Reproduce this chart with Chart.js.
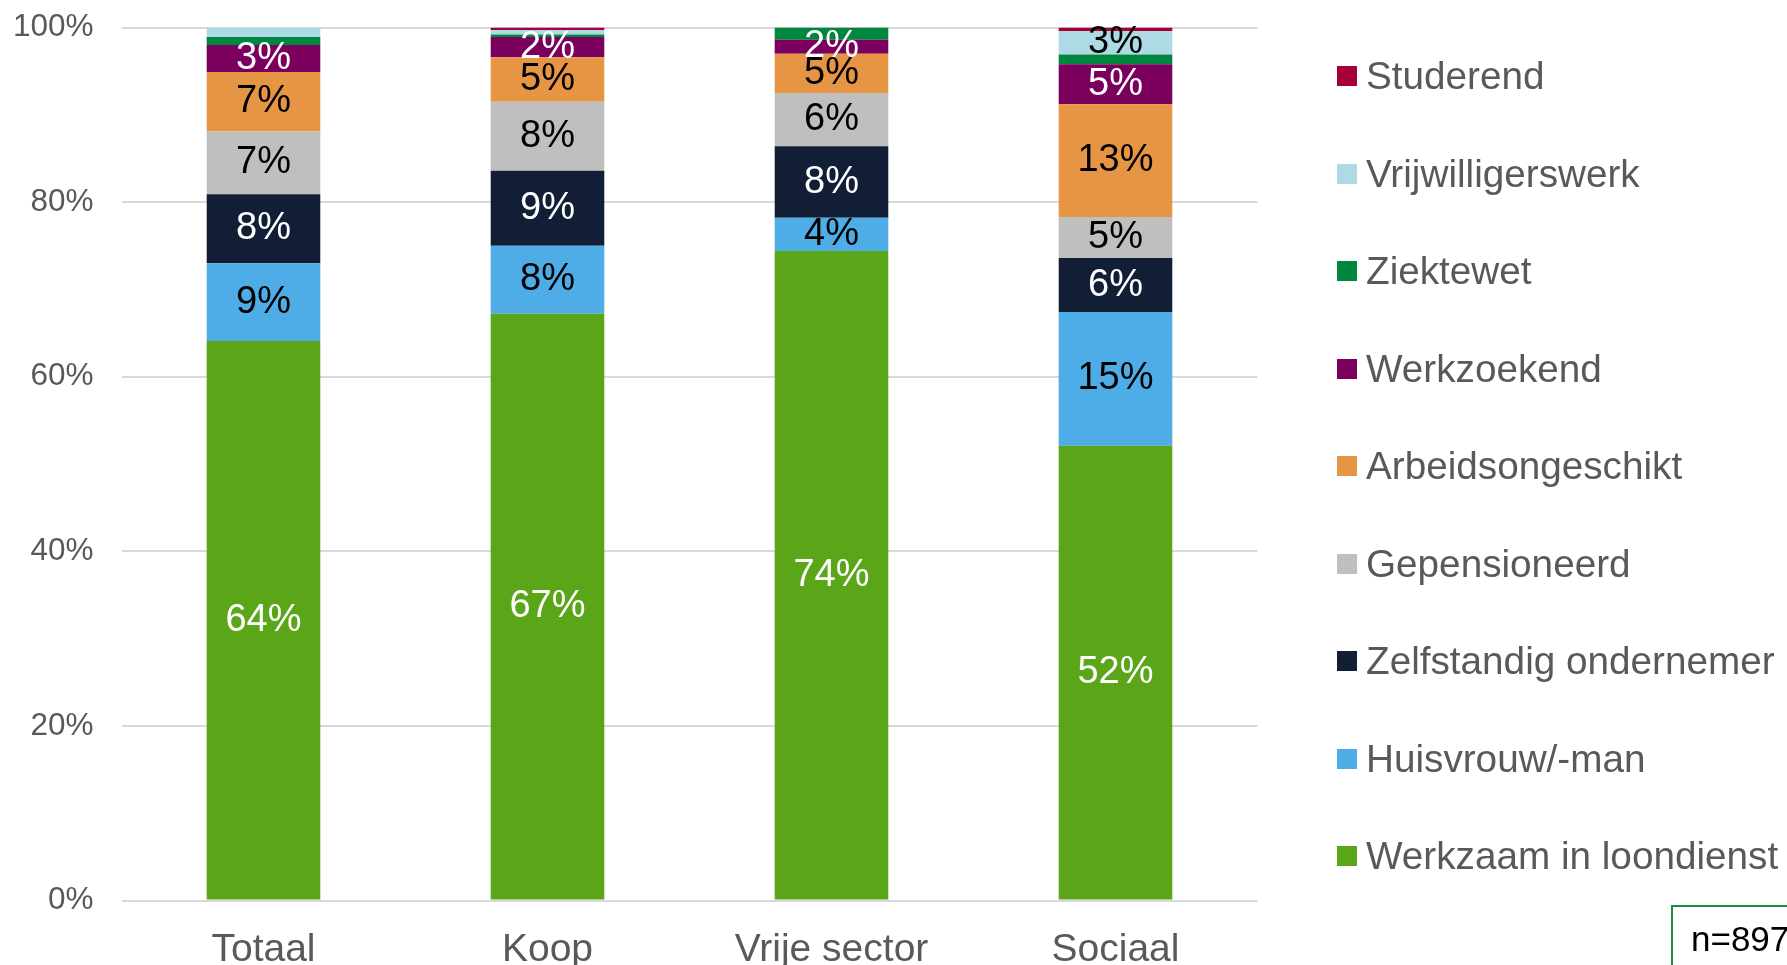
<!DOCTYPE html>
<html>
<head>
<meta charset="utf-8">
<script src="https://cdn.jsdelivr.net/npm/chart.js@4.4.0/dist/chart.umd.min.js"></script>
<style>
  html, body { margin: 0; padding: 0; background: #fff; overflow: hidden; }
  #wrap { position: relative; width: 1787px; height: 965px; }
  #chartBox { position: absolute; left: 0; top: 0; width: 1787px; height: 965px; }
  #legend { position: absolute; left: 1337px; top: 0; font-family: "Liberation Sans", Arial, sans-serif; font-size: 38.7px; color: #595959; }
  .item { position: absolute; left: 0; height: 40px; display: flex; align-items: center; white-space: nowrap; }
  .swatch { width: 20px; height: 20px; margin-right: 9px; flex: none; }
  #nbox { position: absolute; left: 1671px; top: 905px; width: 200px; height: 100px; box-sizing: border-box; border: 2px solid #1E8C45; }
  #nbox span { position: absolute; left: 18px; top: 12px; font-family: "Liberation Sans", Arial, sans-serif; font-size: 35px; color: #000; }
</style>
</head>
<body>
<div id="wrap">
  <div id="chartBox"><canvas id="werkChart"></canvas></div>
  <div id="legend"></div>
  <div id="nbox"><span>n=897</span></div>
</div>
<script>
// categorieen en aandelen (%) per woningtype
const categories = ['Totaal', 'Koop', 'Vrije sector', 'Sociaal'];
const loondienst = [64.1, 67.2, 74.4, 52.1];
const huisvrouw = [8.9, 7.8, 3.8, 15.3];
const zelfstandig = [7.9, 8.6, 8.2, 6.2];
const gepensioneerd = [7.2, 7.9, 6.1, 4.7];
const arbeidsongeschikt = [6.8, 5.1, 4.5, 12.9];
const werkzoekend = [3.1, 2.3, 1.6, 4.6];
const ziektewet = [0.9, 0.3, 1.4, 1.1];
const vrijwilligerswerk = [1.1, 0.5, 0, 2.7];
const studerend = [0, 0.3, 0, 0.4];
const yTicks = [0, 20, 40, 60, 80, 100];

const seriesNames = ['Werkzaam in loondienst', 'Huisvrouw/-man', 'Zelfstandig ondernemer', 'Gepensioneerd',
  'Arbeidsongeschikt', 'Werkzoekend', 'Ziektewet', 'Vrijwilligerswerk', 'Studerend'];
const seriesData = [loondienst, huisvrouw, zelfstandig, gepensioneerd, arbeidsongeschikt,
  werkzoekend, ziektewet, vrijwilligerswerk, studerend];
const colors = ['#5AA518', '#4EADE6', '#111E36', '#BFBFBF', '#E69545', '#7B005E', '#00873F', '#ADDAE4', '#A5003A'];
const labelColors = ['#fff', '#000', '#fff', '#000', '#000', '#fff', '#fff', '#000', '#fff'];

const segmentLabels = {
  id: 'segmentLabels',
  afterDatasetsDraw(chart) {
    const ctx = chart.ctx;
    ctx.save();
    ctx.font = '38px "Liberation Sans", Arial, sans-serif';
    ctx.textAlign = 'center';
    ctx.textBaseline = 'middle';
    chart.data.datasets.forEach((ds, i) => {
      const meta = chart.getDatasetMeta(i);
      meta.data.forEach((bar, j) => {
        const v = ds.data[j];
        if (v < 1.5) return;
        ctx.fillStyle = labelColors[i];
        ctx.fillText(Math.round(v) + '%', bar.x, (bar.y + bar.base) / 2);
      });
    });
    ctx.restore();
  }
};

new Chart(document.getElementById('werkChart'), {
  type: 'bar',
  data: {
    labels: categories,
    datasets: seriesNames.map((name, i) => ({
      label: name,
      data: seriesData[i],
      backgroundColor: colors[i],
      borderWidth: 0,
      barPercentage: 0.4,
      categoryPercentage: 1
    }))
  },
  options: {
    responsive: true,
    maintainAspectRatio: false,
    animation: false,
    layout: { padding: { top: 27.5, right: 529.5, left: 0, bottom: 0 } },
    plugins: { legend: { display: false }, tooltip: { enabled: false } },
    scales: {
      x: {
        stacked: true,
        grid: { display: false },
        border: { display: false },
        ticks: {
          color: '#595959',
          padding: 18,
          font: { family: '"Liberation Sans", Arial, sans-serif', size: 39 }
        },
        afterFit: (s) => { s.height = 64.5; }
      },
      y: {
        stacked: true,
        min: 0,
        max: 100,
        afterBuildTicks: (s) => { s.ticks = yTicks.map(v => ({ value: v })); },
        grid: { color: '#D9D9D9', lineWidth: 2, drawTicks: false },
        border: { display: false },
        ticks: {
          color: '#595959',
          padding: 28,
          font: { family: '"Liberation Sans", Arial, sans-serif', size: 31.5 },
          callback: (v) => v + '%'
        },
        afterFit: (s) => { s.width = 121.5; s.paddingTop = 0; }
      }
    }
  },
  plugins: [segmentLabels]
});

// legenda, omgekeerde volgorde zoals in het origineel
const legend = document.getElementById('legend');
for (let k = 0; k < seriesNames.length; k++) {
  const i = seriesNames.length - 1 - k;
  const row = document.createElement('div');
  row.className = 'item';
  row.style.top = (76 + k * 97.5 - 20) + 'px';
  const sw = document.createElement('div');
  sw.className = 'swatch';
  sw.style.background = colors[i];
  row.appendChild(sw);
  row.appendChild(document.createTextNode(seriesNames[i]));
  legend.appendChild(row);
}
</script>
</body>
</html>
